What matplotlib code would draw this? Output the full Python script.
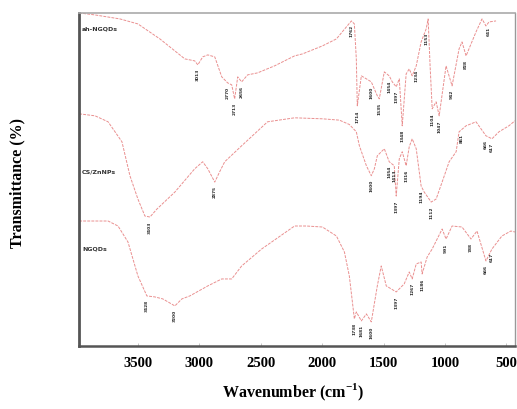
import numpy as np
import matplotlib
matplotlib.use("Agg")
import matplotlib.pyplot as plt

plt.rcParams["mathtext.fontset"] = "custom"
plt.rcParams["mathtext.rm"] = "Liberation Serif"
plt.rcParams["mathtext.bf"] = "Liberation Serif:bold"

# FTIR spectra (wavenumber cm-1, transmittance in arbitrary %)
top_wn = [3980, 3850, 3647, 3501, 3322, 3119, 3038, 3013, 2973, 2932, 2875, 2818, 2770, 2737,
          2713, 2688, 2656, 2607, 2526, 2388, 2225, 2160, 1998, 1884, 1803, 1762, 1738, 1722,
          1714, 1681, 1640, 1600, 1551, 1535, 1494, 1454, 1429, 1397, 1372, 1348, 1316, 1291,
          1267, 1234, 1194, 1153, 1137, 1121, 1104, 1072, 1047, 991, 942, 885, 861, 828, 747,
          698, 666, 641, 584]
top_t = [100, 99.4, 98.2, 96.7, 92.2, 86.2, 85.6, 84.4, 86.8, 87.4, 86.8, 80.8, 79.0, 78.4,
         74.2, 80.8, 79.3, 81.4, 82.0, 84.1, 87.1, 87.7, 90.1, 92.2, 95.8, 97.6, 96.7, 86.2,
         72.1, 81.1, 80.2, 79.3, 75.1, 74.2, 82.3, 81.1, 79.3, 77.8, 80.2, 66.1, 81.7, 83.2,
         81.1, 84.1, 91.3, 95.2, 98.2, 84.1, 71.2, 73.3, 69.1, 84.1, 78.1, 89.2, 91.3, 87.1,
         94.3, 98.2, 96.1, 97.3, 97.6]

mid_wn = [3980, 3850, 3744, 3631, 3566, 3501, 3444, 3403, 3346, 3200, 3038, 2973, 2932, 2875,
          2835, 2794, 2656, 2445, 2225, 1998, 1860, 1779, 1722, 1697, 1640, 1600, 1575, 1551,
          1494, 1454, 1413, 1397, 1372, 1348, 1316, 1291, 1267, 1234, 1194, 1169, 1112, 1072,
          1023, 966, 909, 885, 828, 747, 666, 617, 560, 479, 430]
mid_t = [69.7, 69.1, 67.3, 61.3, 51.1, 44.1, 39.0, 38.7, 41.1, 46.2, 53.2, 55.3, 53.2, 49.2,
         52.3, 55.3, 60.1, 67.3, 68.5, 68.2, 67.8, 66.5, 64.3, 60.1, 54.1, 51.1, 53.2, 57.1,
         59.2, 55.3, 54.1, 45.0, 56.2, 58.3, 54.1, 59.8, 62.2, 59.2, 48.0, 46.2, 43.2, 44.1,
         49.2, 55.3, 58.3, 64.3, 66.1, 67.3, 63.1, 62.2, 64.3, 66.1, 67.6]

bot_wn = [3980, 3744, 3663, 3582, 3501, 3428, 3363, 3298, 3200, 3143, 3078, 2932, 2818, 2737,
          2656, 2493, 2225, 2128, 1998, 1884, 1819, 1779, 1754, 1738, 1722, 1681, 1640, 1600,
          1551, 1519, 1478, 1397, 1332, 1291, 1267, 1234, 1194, 1186, 1145, 1104, 1023, 991,
          942, 861, 788, 739, 666, 617, 536, 463, 430]
bot_t = [37.5, 37.5, 36.0, 31.2, 21.0, 15.0, 14.7, 14.1, 12.0, 14.1, 15.0, 18.0, 20.1, 20.1,
         24.0, 29.1, 36.0, 36.0, 35.7, 33.0, 28.2, 21.0, 13.2, 8.1, 10.2, 7.5, 9.6, 7.2,
         18.0, 24.0, 18.0, 16.2, 18.6, 22.2, 20.1, 24.6, 25.2, 21.6, 26.7, 29.1, 35.1, 32.1,
         36.0, 35.7, 32.1, 34.5, 25.5, 29.1, 33.0, 34.5, 34.2]

series_names = ["ah-NGQDs", "CS/ZnNPs", "NGQDs"]
label_t = [95.5, 52.5, 29.5]

# picked peaks (wavenumbers) labelled under each spectrum
top_peaks = [3013, 2770, 2713, 2656, 1762, 1714, 1600, 1535, 1454, 1397, 1348, 1234, 1153,
             1104, 1047, 942, 828, 641]
mid_peaks = [3403, 2875, 1600, 1454, 1413, 1397, 1316, 1194, 1112, 861, 666, 617]
bot_peaks = [3428, 3200, 1738, 1681, 1600, 1397, 1267, 1186, 991, 788, 666, 617]

LINE_COLOR = "#e67c7c"
PEAK_COLOR = "#2a2a2a"

fig = plt.figure(figsize=(5.17, 4.10), dpi=100)
ax = fig.add_axes([0.153, 0.154, 0.843, 0.812])

for wn, t, peaks in [(top_wn, top_t, top_peaks), (mid_wn, mid_t, mid_peaks),
                     (bot_wn, bot_t, bot_peaks)]:
    ax.plot(wn, t, color=LINE_COLOR, lw=0.7, ls=(0, (3, 1.2)), alpha=0.85)
    # interpolation needs ascending x
    xs = np.array(wn)[::-1]
    ys = np.array(t)[::-1]
    for p in peaks:
        yp = np.interp(p, xs, ys)
        ax.text(p, yp - 1.0, str(p), rotation=90, fontsize=3.2, color=PEAK_COLOR,
                ha="center", va="top", fontweight="bold")

for name, yl in zip(series_names, label_t):
    ax.text(3955, yl, name, fontsize=4.5, fontweight="bold", color="#333333",
            ha="left", va="center")

ax.set_xlim(3980, 430)
ax.set_ylim(0, 100)
ax.set_yticks([])
ax.set_xticks([3500, 3000, 2500, 2000, 1500, 1000, 500])
ax.tick_params(axis="x", direction="in", length=2, width=0.6, colors="#bbbbbb",
               labelcolor="black", pad=7)
for lab in ax.get_xticklabels():
    lab.set_fontfamily("Liberation Serif")
    lab.set_fontweight("bold")
    lab.set_fontsize(10.5)

ax.spines["left"].set_linewidth(2.0)
ax.spines["left"].set_color("#555555")
ax.spines["bottom"].set_linewidth(1.8)
ax.spines["bottom"].set_color("#555555")
ax.spines["top"].set_linewidth(1.2)
ax.spines["top"].set_color("#aaaaaa")
ax.spines["right"].set_linewidth(1.0)
ax.spines["right"].set_color("#999999")

fig.text(0.567, 1 - 392 / 410, "Wavenumber (cm$^{\\mathbf{-1}}$)", ha="center", va="center",
         fontsize=11.5, fontweight="bold", family="Liberation Serif")
fig.text(17 / 517, 1 - 183 / 410, "Transmittance (%)", ha="center", va="center",
         rotation=90, fontsize=11.5, fontweight="bold", family="Liberation Serif")

fig.savefig("out.png", dpi=100)
